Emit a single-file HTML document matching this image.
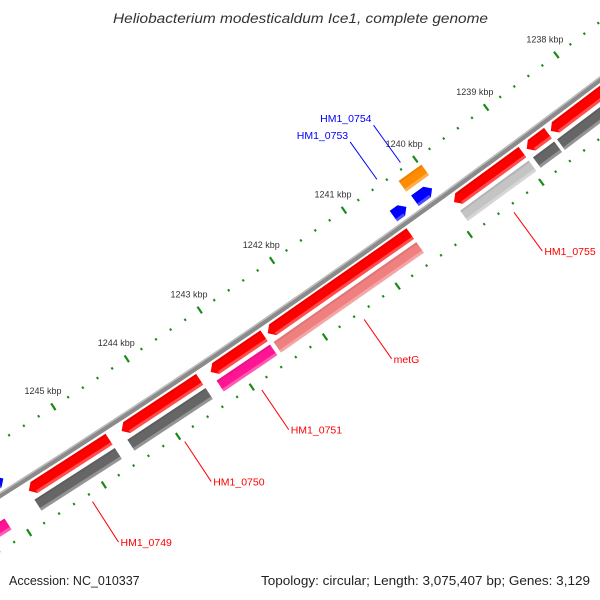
<!DOCTYPE html>
<html><head><meta charset="utf-8"><style>
html,body{margin:0;padding:0;background:#fff;}
svg{display:block;font-family:"Liberation Sans",sans-serif;}
</style></head><body>
<svg id="map" width="600" height="600" viewBox="0 0 600 600" xmlns="http://www.w3.org/2000/svg">
<rect width="600" height="600" fill="#fff"/>
<text x="113" y="23" textLength="375" lengthAdjust="spacingAndGlyphs" font-size="13.5" font-style="italic" fill="#333">Heliobacterium modesticaldum Ice1, complete genome</text>
<g id="ticks"></g>
<g id="backbone"></g>
<g id="features"></g>
<g id="labels"></g>
<text x="9" y="585" font-size="12.5" fill="#222">Accession: NC_010337</text>
<text x="261" y="585" textLength="329" lengthAdjust="spacingAndGlyphs" font-size="12.5" fill="#222">Topology: circular; Length: 3,075,407 bp; Genes: 3,129</text>
</svg>
<script>
// data (kbp)
var tickLabels = [1238, 1239, 1240, 1241, 1242, 1243, 1244, 1245];
var fwdStart = [1237.3, 1238.61, 1238.97, 1240.54, 1242.56, 1243.44, 1244.67];
var fwdEnd   = [1238.57, 1238.91, 1239.93, 1242.51, 1243.29, 1244.50, 1245.75];
var fwdLabel = ["", "", "HM1_0755", "metG", "HM1_0751", "HM1_0750", "HM1_0749"];
var s2Start = [1237.3, 1238.61, 1238.97, 1240.54, 1242.56, 1243.44, 1244.67, 1246.15];
var s2End   = [1238.57, 1238.91, 1239.93, 1242.51, 1243.29, 1244.50, 1245.75, 1247.0];
var s2Color = ["#666666", "#666666", "#c4c4c4", "#f08080", "#ff1493", "#666666", "#666666", "#ff1493"];
var revStart = [1240.04, 1240.40, 1245.92];
var revEnd   = [1240.28, 1240.58, 1247.0];
var revLabel = ["HM1_0754", "HM1_0753", ""];
var orgStart = [1239.98];
var orgEnd   = [1240.30];

var NS = "http://www.w3.org/2000/svg";
var CX = -4509, CY = -6651;
function ang(k){ return (54.13 + 0.598 * (k - 1240)) * Math.PI / 180; }
function pt(k, r){ var a = ang(k); return [CX + r * Math.cos(a), CY + r * Math.sin(a)]; }
function mk(tag, attrs, parent){
  var e = document.createElementNS(NS, tag);
  for (var key in attrs) e.setAttribute(key, attrs[key]);
  parent.appendChild(e); return e;
}
function polyStr(pts){ return pts.map(function(p){return p[0].toFixed(2)+","+p[1].toFixed(2);}).join(" "); }

// ticks
var tg = document.getElementById("ticks");
[8404, 8497].forEach(function(R, ri){
  for (var i = 0; i <= 50; i++){
    var k = 1237 + i * 0.2;
    var major = (i % 5 === 0);
    var half = major ? 4 : 1.2;
    var a = pt(k, R - half), b = pt(k, R + half);
    var ln = mk("line", {x1:a[0], y1:a[1], x2:b[0], y2:b[1], stroke:"#1a8a1a", "stroke-width": major ? 2.2 : 2}, tg);
    
    
  }
});
tickLabels.forEach(function(k){
  var p = pt(k, 8385);
  var t = mk("text", {x:p[0], y:p[1]+3, "text-anchor":"middle", "font-size":"9", fill:"#333"}, tg);
  
  
  t.textContent = k + " kbp";
});

// backbone
var bg = document.getElementById("backbone");
function arc(k1, k2, r){ var a = pt(k1, r), b = pt(k2, r); return "M"+a[0]+","+a[1]+" A"+r+","+r+" 0 0 1 "+b[0]+","+b[1]; }
var bb = mk("path", {d: arc(1235.5, 1247.5, 8450), stroke:"#8a8a8a", "stroke-width":"5.5", fill:"none"}, bg);


var bbh = mk("path", {d: arc(1235.5, 1247.5, 8448), stroke:"#bdbdbd", "stroke-width":"1.5", fill:"none"}, bg);



// features
var fg = document.getElementById("features");
function block(k1, k2, r1, r2, color, head, name){
  var h = 0.07, rm = (r1 + r2) / 2, pts;
  if (head === 1) pts = [pt(k1,r1), pt(k2-h,r1), pt(k2,rm), pt(k2-h,r2), pt(k1,r2)];
  else if (head === -1) pts = [pt(k1,rm), pt(k1+h,r1), pt(k2,r1), pt(k2,r2), pt(k1+h,r2)];
  else pts = [pt(k1,r1), pt(k2,r1), pt(k2,r2), pt(k1,r2)];
  var g = mk("g", {}, fg);
  
  
  mk("polygon", {points: polyStr(pts), fill: color}, g);
  var kk2 = head === 1 ? k2 - h : k2, kk1 = head === -1 ? k1 + h : k1;
  mk("polygon", {points: polyStr([pt(kk1, r2-3), pt(kk2, r2-3), pt(kk2, r2), pt(kk1, r2)]), fill:"#fff", opacity:"0.3"}, g);
  mk("polygon", {points: polyStr([pt(kk1, r1), pt(kk2, r1), pt(kk2, r1+2), pt(kk1, r1+2)]), fill:"#000", opacity:"0.08"}, g);
}
for (var i = 0; i < fwdStart.length; i++) block(fwdStart[i], fwdEnd[i], 8455, 8468, "#ff0000", 1, "forward-gene");
for (var i = 0; i < s2Start.length; i++) block(s2Start[i], s2End[i], 8472, 8485, s2Color[i], 0, "feature-slot2");
for (var i = 0; i < revStart.length; i++) block(revStart[i], revEnd[i], 8431, 8444, "#0000ff", -1, "reverse-gene");
for (var i = 0; i < orgStart.length; i++) block(orgStart[i], orgEnd[i], 8412, 8425, "#ff8c00", 0, "orange-feature");

// labels
var lg = document.getElementById("labels");
for (var i = 0; i < fwdLabel.length; i++){
  if (!fwdLabel[i]) continue;
  var m = (fwdStart[i] + fwdEnd[i]) / 2, a = pt(m, 8505), b = pt(m, 8553);
  var l = mk("line", {x1:a[0], y1:a[1], x2:b[0], y2:b[1], stroke:"#ff0000", "stroke-width":"1"}, lg);
  
  
  var t = mk("text", {x:b[0]+2, y:b[1]+4, "font-size":"10.5", fill:"#ff0000"}, lg);
  
  
  t.textContent = fwdLabel[i];
}
for (var i = 0; i < revLabel.length; i++){
  if (!revLabel[i]) continue;
  var m = (revStart[i] + revEnd[i]) / 2, a = pt(m, 8398), b = pt(m, 8352);
  var l = mk("line", {x1:a[0], y1:a[1], x2:b[0], y2:b[1], stroke:"#0000ff", "stroke-width":"1"}, lg);
  
  
  var t = mk("text", {x:b[0]-2, y:b[1]-3, "text-anchor":"end", "font-size":"10.5", fill:"#0000ff"}, lg);
  
  
  t.textContent = revLabel[i];
}
</script>
</body></html>
